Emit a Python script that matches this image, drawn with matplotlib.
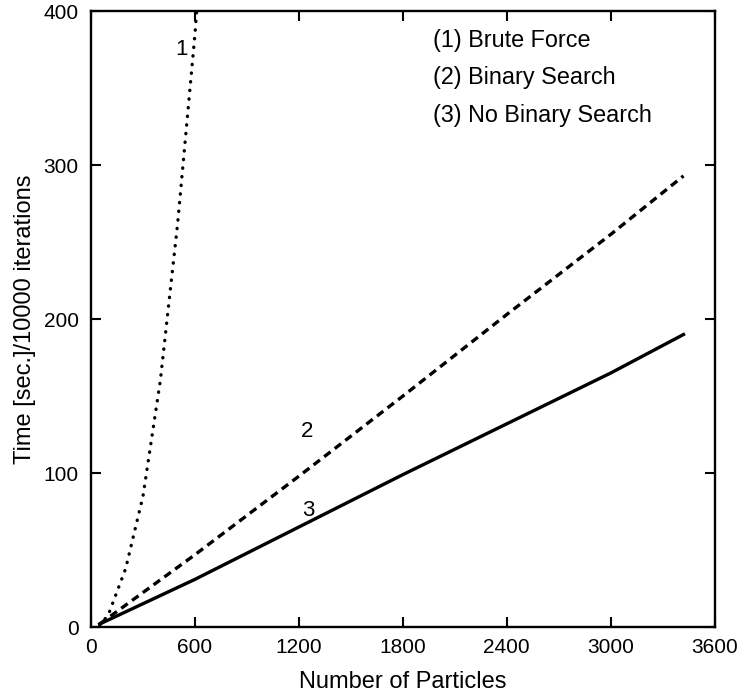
import numpy as np
import matplotlib
matplotlib.use('Agg')
import matplotlib.pyplot as plt

plt.rcParams['font.family'] = ['Liberation Sans', 'DejaVu Sans']

# curve values
brute_x = [50, 100, 200, 300, 400, 500, 600, 610]
brute_y = [1, 8, 38, 85, 160, 262, 385, 400]

binary_x = [50, 600, 1200, 1800, 2400, 3000, 3420]
binary_y = [2, 47, 98, 150, 203, 255, 293]

nobinary_x = [50, 600, 1200, 1800, 2400, 3000, 3420]
nobinary_y = [2, 31, 65, 99, 132, 165, 190]

legend_lines = ['(1) Brute Force', '(2) Binary Search', '(3) No Binary Search']
x_ticks = [0, 600, 1200, 1800, 2400, 3000, 3600]
y_ticks = [0, 100, 200, 300, 400]

fig = plt.figure(figsize=(7.46, 6.96), dpi=100)
ax = fig.add_axes([0.122, 0.099, 0.836, 0.885])

ax.plot(brute_x, brute_y, color='black', lw=2.4, linestyle=(0, (0.1, 2.5)),
        dash_capstyle='round')
ax.plot(binary_x, binary_y, color='black', lw=2.4, linestyle=(0, (2.4, 1.6)))
ax.plot(nobinary_x, nobinary_y, color='black', lw=2.4)

# curve numbers
ax.text(520, 375, '1', fontsize=16, ha='center', va='center')
ax.text(1245, 127, '2', fontsize=16, ha='center', va='center')
ax.text(1255, 76, '3', fontsize=16, ha='center', va='center')

for i, s in enumerate(legend_lines):
    ax.text(0.548, 0.953 - i * 0.061, s, transform=ax.transAxes,
            fontsize=16.8, ha='left', va='center')

ax.set_xlim(0, 3600)
ax.set_ylim(0, 400)
ax.set_xticks(x_ticks)
ax.set_yticks(y_ticks)
ax.tick_params(direction='in', length=7, width=1.5, top=True, right=True,
               labelsize=15)
ax.tick_params(axis='x', pad=8)
ax.tick_params(axis='y', pad=9)
for sp in ax.spines.values():
    sp.set_linewidth(1.7)

ax.set_xlabel('Number of Particles', fontsize=17, labelpad=10)
ax.set_ylabel('Time [sec.]/10000 iterations', fontsize=17, labelpad=5)

fig.savefig('out.png', dpi=100)
